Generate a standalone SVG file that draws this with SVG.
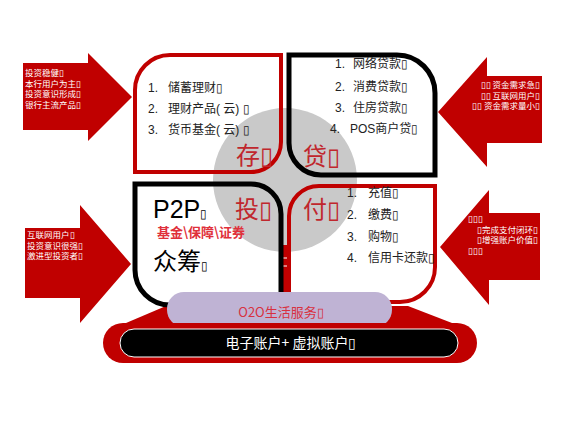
<svg xmlns="http://www.w3.org/2000/svg" width="569" height="427" viewBox="0 0 569 427">
<style>
.arrow{fill:#C00000}
.at{fill:#fff;font-family:"Noto Sans CJK SC","Liberation Sans",sans-serif;font-size:8.5px}
.item{fill:#222;font-family:"Liberation Sans","Noto Sans CJK SC",sans-serif;font-size:12px}
.big{fill:#C0272D;font-family:"Noto Sans CJK SC",sans-serif;font-size:24px}
.rbox{fill:none;stroke:#C00000;stroke-width:4}
.kbox{fill:none;stroke:#000;stroke-width:5}
</style>
<rect width="569" height="427" fill="#fff"/>
<g id="arrow-left-top"><polygon class="arrow" points="23,63 88,63 88,53 132,97 88,141 88,130 23,130"/>
<text class="at" x="25" y="76">投资稳健▯</text><text class="at" x="25" y="86.5">本行用户为主▯</text><text class="at" x="25" y="97">投资意识形成▯</text><text class="at" x="25" y="107.5">银行主流产品▯</text></g>
<g id="arrow-left-bottom"><polygon class="arrow" points="25,228 80,228 80,205 131,264 80,323 80,298 25,298"/>
<text class="at" x="27" y="238">互联网用户▯</text><text class="at" x="27" y="248.5">投资意识很强▯</text><text class="at" x="27" y="259">激进型投资者▯</text></g>
<g id="arrow-right-top"><polygon class="arrow" points="542,76 487,76 487,57 438,112 487,167 487,143 542,143"/>
<text class="at" x="540" y="88" text-anchor="end">▯▯ 资金需求急▯</text><text class="at" x="540" y="98.5" text-anchor="end">▯▯ 互联网用户▯</text><text class="at" x="540" y="109" text-anchor="end">▯▯ 资金需求量小▯</text></g>
<g id="arrow-right-bottom"><polygon class="arrow" points="540,213 489,213 489,190 440,247 489,305 489,280 540,280"/>
<text class="at" x="468" y="222">▯▯▯</text><text class="at" x="538" y="232.5" text-anchor="end">▯完成支付闭环▯</text><text class="at" x="538" y="243" text-anchor="end">▯增强账户价值▯</text><text class="at" x="468" y="253.5">▯▯▯</text></g>
<g id="platform"><polygon fill="#C00000" points="126,323 166,306 408,306 452,323"/></g>
<circle id="hub" cx="285" cy="180" r="72" fill="#C9C9C9"/>
<g id="box-cun"><path class="rbox" d="M135,90 A35,35 0 0 1 170,55 H281 V142 A30,30 0 0 1 251,172 H135 Z"/>
<text class="item" x="148" y="92">1.</text><text class="item" x="168" y="92">储蓄理财▯</text>
<text class="item" x="148" y="113">2.</text><text class="item" x="168" y="113">理财产品( 云) ▯</text>
<text class="item" x="148" y="134">3.</text><text class="item" x="168" y="134">货币基金( 云) ▯</text>
<text class="big" x="236" y="164">存▯</text></g>
<g id="box-dai"><path class="kbox" d="M289,55 H397 A38,38 0 0 1 435,93 V175 H321 A32,32 0 0 1 289,143 Z"/>
<text class="item" x="335" y="68">1.</text><text class="item" x="353" y="68">网络贷款▯</text>
<text class="item" x="335" y="91">2.</text><text class="item" x="353" y="91">消费贷款▯</text>
<text class="item" x="335" y="112">3.</text><text class="item" x="353" y="112">住房贷款▯</text>
<text class="item" x="330" y="133">4.</text><text class="item" x="350" y="133">POS商户贷▯</text>
<text class="big" x="303" y="165">贷▯</text></g>
<g id="stub"><rect x="283" y="245" width="6" height="60" fill="#C00000"/><path d="M283,258 h6 M283,266 h6" stroke="#fff" stroke-width="1"/></g>
<g id="box-tou"><path class="kbox" d="M135,184 H251 A30,30 0 0 1 281,214 V305 H170 A35,35 0 0 1 135,270 Z"/>
<text x="153" y="218" font-family="Liberation Sans,sans-serif" font-size="25" fill="#000">P2P<tspan font-size="12">▯</tspan></text>
<text x="157" y="237" font-family="Noto Sans CJK SC,sans-serif" font-size="13" font-weight="bold" fill="#E0303A">基金\保障\证券</text>
<text x="153" y="270" font-family="Noto Sans CJK SC,sans-serif" font-size="24" fill="#000">众筹<tspan font-size="12">▯</tspan></text>
<text class="big" x="235" y="218">投▯</text></g>
<g id="box-fu"><path class="rbox" d="M289,305 V216 A30,30 0 0 1 319,186 H435 V267 A35,35 0 0 1 400,302 H289"/>
<text class="item" x="347" y="197">1.</text><text class="item" x="368" y="197">充值▯</text>
<text class="item" x="347" y="219">2.</text><text class="item" x="368" y="219">缴费▯</text>
<text class="item" x="347" y="241">3.</text><text class="item" x="368" y="241">购物▯</text>
<text class="item" x="347" y="262">4.</text><text class="item" x="368" y="262">信用卡还款▯</text>
<text class="big" x="303" y="218">付▯</text></g>
<g id="o2o"><rect x="167" y="292" width="225" height="35" rx="17" fill="#BFB3D4"/>
<text x="281" y="317" text-anchor="middle" font-family="Noto Sans CJK SC,sans-serif" font-size="13" fill="#D83040">O2O生活服务▯</text></g>
<g id="account"><rect x="103" y="323" width="374" height="40" rx="20" fill="#C00000"/>
<rect x="120" y="329" width="338" height="28" rx="14" fill="#000" stroke="#fff" stroke-width="1"/>
<text x="291" y="348" text-anchor="middle" font-family="Noto Sans CJK SC,sans-serif" font-size="14" fill="#fff">电子账户+ 虚拟账户▯</text></g>
<g id="connectors"/>
</svg>
